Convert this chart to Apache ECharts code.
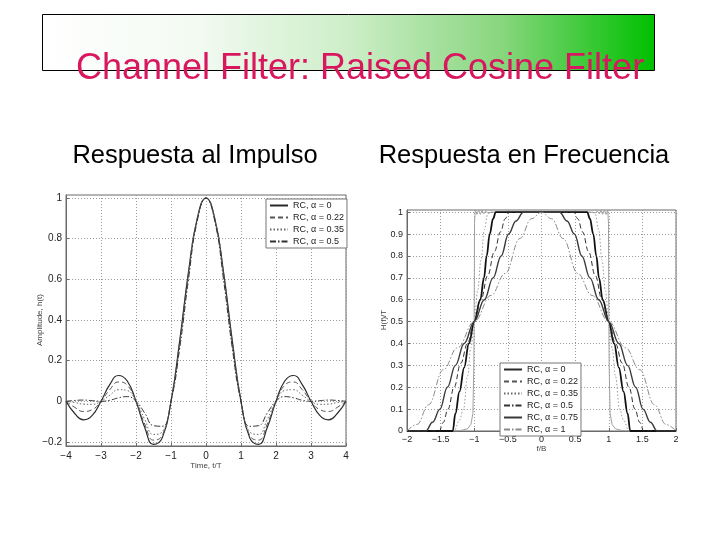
<!DOCTYPE html>
<html>
<head>
<meta charset="utf-8">
<script src="https://cdn.jsdelivr.net/npm/echarts@6/dist/echarts.min.js"></script>
<style>
html,body{margin:0;padding:0;background:#fff;}
#chart{width:720px;height:540px;}
</style>
</head>
<body>
<div id="chart"></div>
<script>
// ---------- Text ----------
const mainTitle = 'Channel Filter: Raised Cosine Filter';
const leftTitle = 'Respuesta al Impulso';
const rightTitle = 'Respuesta en Frecuencia';
const leftYName = 'Amplitude, h(t)';
const rightYName = 'H(f)/T';

// ---------- Impulse response (t/T vs h(t)) ----------
const timeT = [-4,-3.75,-3.5,-3.25,-3,-2.75,-2.5,-2.25,-2,-1.75,-1.5,-1.25,-1,-0.75,-0.5,-0.25,0,
               0.25,0.5,0.75,1,1.25,1.5,1.75,2,2.25,2.5,2.75,3,3.25,3.5,3.75,4];
const h00 = [0,-0.060,-0.091,-0.069,0,0.082,0.127,0.100,0,-0.129,-0.212,-0.180,0,0.300,0.637,0.900,1,
             0.900,0.637,0.300,0,-0.180,-0.212,-0.129,0,0.100,0.127,0.082,0,-0.069,-0.091,-0.060,0];
const h22 = [0,-0.030,-0.050,-0.041,0,0.057,0.095,0.079,0,-0.112,-0.191,-0.168,0,0.293,0.630,0.898,1,
             0.898,0.630,0.293,0,-0.168,-0.191,-0.112,0,0.079,0.095,0.057,0,-0.041,-0.050,-0.030,0];
const h35 = [0,-0.006,-0.014,-0.015,0,0.030,0.057,0.053,0,-0.089,-0.163,-0.150,0,0.281,0.619,0.894,1,
             0.894,0.619,0.281,0,-0.150,-0.163,-0.089,0,0.053,0.057,0.030,0,-0.015,-0.014,-0.006,0];
const h50 = [0,0.004,0.006,0.003,0,0.005,0.017,0.023,0,-0.058,-0.120,-0.123,0,0.263,0.600,0.887,1,
             0.887,0.600,0.263,0,-0.123,-0.120,-0.058,0,0.023,0.017,0.005,0,0.003,0.006,0.004,0];
const impulseNames = ['RC, \u03b1 = 0','RC, \u03b1 = 0.22','RC, \u03b1 = 0.35','RC, \u03b1 = 0.5'];
const impulseYTicks = [-0.2,0,0.2,0.4,0.6,0.8,1];

// ---------- Frequency response (f/B vs H(f)/T), [f, H] pairs ----------
const fRC0 = [[-2,0],[-1.35,0],[-1.2,0.002],[-1.1,0.01],[-1.05,0.03],[-1.02,0.08],[-1.006,0.3],[-1.0,0.6],[-0.996,0.95],[-0.985,1.01],[-0.96,0.99],[-0.935,1.01],[-0.91,0.99],[-0.885,1.008],[-0.86,0.993],[-0.83,1.005],[-0.8,0.997],[-0.75,1],
              [0.75,1],[0.8,0.997],[0.83,1.005],[0.86,0.993],[0.885,1.008],[0.91,0.99],[0.935,1.01],[0.96,0.99],[0.985,1.01],[0.996,0.95],[1.0,0.6],[1.006,0.3],[1.02,0.08],[1.05,0.03],[1.1,0.01],[1.2,0.002],[1.35,0],[2,0]];
const fRC22 = [[-2,0],[-1.3,0],[-1.22,0.05],[-1.16,0.1],[-1.1,0.25],[-1.05,0.38],[-1,0.5],[-0.95,0.64],[-0.9,0.78],[-0.85,0.92],[-0.8,0.99],[-0.76,1],
               [0.76,1],[0.8,0.99],[0.85,0.92],[0.9,0.78],[0.95,0.64],[1,0.5],[1.05,0.38],[1.1,0.25],[1.16,0.1],[1.22,0.05],[1.3,0],[2,0]];
const fRC35 = [[-2,0],[-1.32,0],[-1.28,0.08],[-1.22,0.18],[-1.15,0.29],[-1.08,0.4],[-1,0.5],[-0.91,0.6],[-0.855,0.7],[-0.815,0.8],[-0.77,0.9],[-0.72,0.97],[-0.68,1],
               [0.68,1],[0.72,0.97],[0.77,0.9],[0.815,0.8],[0.855,0.7],[0.91,0.6],[1,0.5],[1.08,0.4],[1.15,0.29],[1.22,0.18],[1.28,0.08],[1.32,0],[2,0]];
const fRC50 = [[-2,0],[-1.52,0],[-1.46,0.04],[-1.39,0.1],[-1.3,0.2],[-1.2,0.31],[-1.1,0.4],[-1,0.5],[-0.9,0.6],[-0.8,0.71],[-0.7,0.82],[-0.61,0.91],[-0.54,0.97],[-0.48,1],
               [0.48,1],[0.54,0.97],[0.61,0.91],[0.7,0.82],[0.8,0.71],[0.9,0.6],[1,0.5],[1.1,0.4],[1.2,0.31],[1.3,0.2],[1.39,0.1],[1.46,0.04],[1.52,0],[2,0]];
const fRC75 = [[-2,0],[-1.72,0],[-1.62,0.04],[-1.51,0.1],[-1.4,0.2],[-1.28,0.3],[-1.15,0.4],[-1,0.5],[-0.85,0.6],[-0.72,0.7],[-0.6,0.8],[-0.49,0.9],[-0.38,0.96],[-0.27,1],
               [0.27,1],[0.38,0.96],[0.49,0.9],[0.6,0.8],[0.72,0.7],[0.85,0.6],[1,0.5],[1.15,0.4],[1.28,0.3],[1.4,0.2],[1.51,0.1],[1.62,0.04],[1.72,0],[2,0]];
const fRC100 = [[-2,0],[-1.85,0.03],[-1.68,0.12],[-1.46,0.28],[-1.25,0.38],[-1,0.5],[-0.75,0.62],[-0.54,0.72],[-0.32,0.88],[-0.15,0.97],[0,1],
                [0.15,0.97],[0.32,0.88],[0.54,0.72],[0.75,0.62],[1,0.5],[1.25,0.38],[1.46,0.28],[1.68,0.12],[1.85,0.03],[2,0]];
const freqNames = ['RC, \u03b1 = 0','RC, \u03b1 = 0.22','RC, \u03b1 = 0.35','RC, \u03b1 = 0.5','RC, \u03b1 = 0.75','RC, \u03b1 = 1'];
const freqYTicks = [0,0.1,0.2,0.3,0.4,0.5,0.6,0.7,0.8,0.9,1];

// ---------- Chart ----------
const FONT = '"Liberation Sans", Arial, sans-serif';
const minus = v => String(v).replace('-', '\u2212');
const gridLine = {show:true, lineStyle:{color:'#9a9a9a', type:[1,2], width:1}};
const axLine = {show:true, onZero:false, lineStyle:{color:'#6a6a6a', width:1}};
const tick = {show:true, inside:true, length:3, lineStyle:{color:'#6a6a6a'}};

const chart = echarts.init(document.getElementById('chart'), null, {renderer:'canvas'});

function impulseSeries(name, ys, color, type, width) {
  return {
    name, type:'line', xAxisIndex:0, yAxisIndex:0,
    data: timeT.map((t,i)=>[t, ys[i]]),
    smooth:0.5, showSymbol:false, symbol:'none',
    lineStyle:{color, type, width}, itemStyle:{color},
    animation:false
  };
}
function freqSeries(name, pts, color, type, width, smooth) {
  return {
    name, type:'line', xAxisIndex:1, yAxisIndex:1,
    data: pts, smooth: smooth, smoothMonotone:'x',
    showSymbol:false, symbol:'none',
    lineStyle:{color, type, width}, itemStyle:{color},
    animation:false
  };
}
const legendBase = {
  orient:'vertical', itemWidth:18, itemHeight:8, itemGap:3, padding:[2,3,2,3],
  backgroundColor:'#fff', borderColor:'#777', borderWidth:1,
  itemStyle:{opacity:0},
  textStyle:{fontSize:9, color:'#222', fontFamily:FONT}, selectedMode:false
};

const option = {
  animation:false,
  backgroundColor:'#ffffff',
  textStyle:{fontFamily:FONT},
  graphic:[
    {type:'rect', z:0, shape:{x:42.5, y:14.5, width:612, height:56},
     style:{fill:{type:'linear', x:0, y:0, x2:1, y2:0, colorStops:[
        {offset:0, color:'#ffffff'},
        {offset:0.25, color:'#f3faf2'},
        {offset:0.5, color:'#cdeec8'},
        {offset:0.75, color:'#88d67e'},
        {offset:1, color:'#00c000'}]},
        stroke:'#000', lineWidth:1}},
    {type:'text', z:2, x:360, y:69,
     style:{text:mainTitle, font:'36px ' + FONT, fill:'#d9175f', align:'center', verticalAlign:'middle'}},
    {type:'text', z:2, x:195, y:156,
     style:{text:leftTitle, font:'25.5px ' + FONT, fill:'#000', align:'center', verticalAlign:'middle'}},
    {type:'text', z:2, x:524, y:156,
     style:{text:rightTitle, font:'25.5px ' + FONT, fill:'#000', align:'center', verticalAlign:'middle'}},
    {type:'text', z:2, x:40, y:320, rotation:Math.PI/2,
     style:{text:leftYName, font:'8px ' + FONT, fill:'#444', align:'center', verticalAlign:'middle'}},
    {type:'text', z:2, x:384, y:320, rotation:Math.PI/2,
     style:{text:rightYName, font:'8px ' + FONT, fill:'#444', align:'center', verticalAlign:'middle'}}
  ],
  legend:[
    Object.assign({}, legendBase, {data:impulseNames.slice(), left:266, top:199}),
    Object.assign({}, legendBase, {data:freqNames.slice(), left:500, top:363})
  ],
  grid:[
    {left:66, right:374, top:195, bottom:94, show:true, borderColor:'#6a6a6a', borderWidth:1, backgroundColor:'#fff'},
    {left:407, right:44, top:210, bottom:109, show:true, borderColor:'#6a6a6a', borderWidth:1, backgroundColor:'#fff'}
  ],
  xAxis:[
    {gridIndex:0, type:'value', min:-4, max:4, interval:1,
     axisLine:axLine, axisTick:tick, splitLine:gridLine,
     axisLabel:{fontSize:10, color:'#222', margin:5, formatter:minus},
     name:'Time, t/T', nameLocation:'middle', nameGap:13,
     nameTextStyle:{fontSize:8, color:'#444'}},
    {gridIndex:1, type:'value', min:-2, max:2, interval:0.5,
     axisLine:axLine, axisTick:tick, splitLine:gridLine,
     axisLabel:{fontSize:9, color:'#222', margin:4, formatter:minus},
     name:'f/B', nameLocation:'middle', nameGap:12,
     nameTextStyle:{fontSize:8, color:'#444'}}
  ],
  yAxis:[
    {gridIndex:0, type:'value', min:-0.22, max:1.015,
     axisLine:axLine,
     axisTick:Object.assign({}, tick, {customValues:impulseYTicks}),
     splitLine:gridLine,
     axisLabel:{fontSize:10, color:'#222', margin:4, formatter:minus, customValues:impulseYTicks}},
    {gridIndex:1, type:'value', min:0, max:1.01,
     axisLine:axLine,
     axisTick:Object.assign({}, tick, {customValues:freqYTicks}),
     splitLine:gridLine,
     axisLabel:{fontSize:9, color:'#222', margin:4, formatter:minus, customValues:freqYTicks}}
  ],
  series:[
    impulseSeries(impulseNames[0], h00, '#2a2a2a', 'solid', 1.2),
    impulseSeries(impulseNames[1], h22, '#555555', [5,3], 1),
    impulseSeries(impulseNames[2], h35, '#666666', [1.5,2], 1),
    impulseSeries(impulseNames[3], h50, '#333333', [6,2,1.5,2], 1),
    freqSeries(freqNames[0], fRC0, '#a0a0a0', 'solid', 1, false),
    freqSeries(freqNames[1], fRC22, '#9a9a9a', [1.5,2], 1, 0.4),
    freqSeries(freqNames[2], fRC35, '#111111', 'solid', 1.8, 0.4),
    freqSeries(freqNames[3], fRC50, '#333333', [5,3], 1, 0.4),
    freqSeries(freqNames[4], fRC75, '#3a3a3a', 'solid', 1.4, 0.4),
    freqSeries(freqNames[5], fRC100, '#8a8a8a', [6,2,1.5,2], 1, 0.4)
  ]
};
chart.setOption(option);
</script>
</body>
</html>
